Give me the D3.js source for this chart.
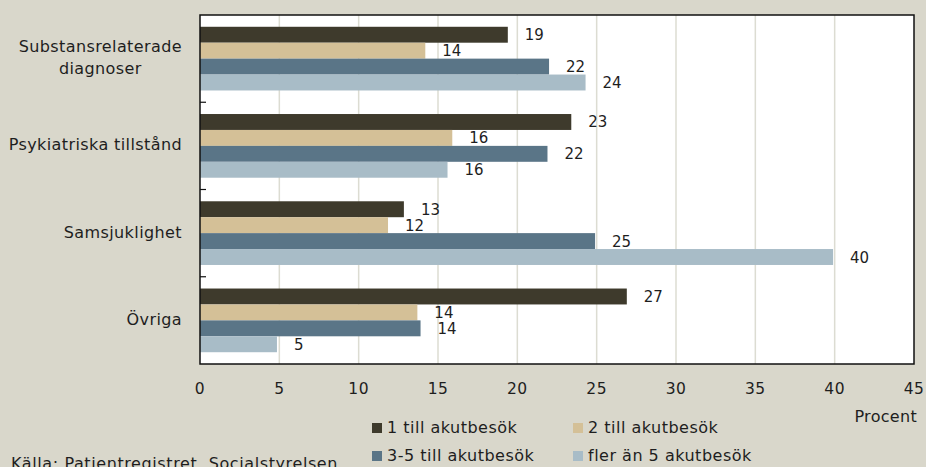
<!DOCTYPE html>
<html>
<head>
<meta charset="utf-8">
<script src="https://cdn.jsdelivr.net/npm/d3@7"></script>
<style>
	html, body { margin: 0; padding: 0; background: #d9d7cb; }
	svg { display: block; }
	text { font-family: "DejaVu Sans", sans-serif; fill: #1e1e1e; }
</style>
</head>
<body>
<div id="chart"></div>
<script>

var categories = [ "Substansrelaterade\ndiagnoser", "Psykiatriska tillstånd", "Samsjuklighet", "Övriga" ];
var seriesNames = [ "1 till akutbesök", "2 till akutbesök", "3-5 till akutbesök", "fler än 5 akutbesök" ];
var seriesColors = [ "#3e3a2c", "#d4c097", "#5a7587", "#a8bcc7" ];

// value per category, one array per series
var oneVisit    = [ 19.4, 23.4, 12.85, 26.9 ];
var twoVisits   = [ 14.2, 15.9, 11.85, 13.7 ];
var threeToFive = [ 22.0, 21.9, 24.9, 13.9 ];
var moreThan5   = [ 24.3, 15.6, 39.9, 4.85 ];

var xTicks = [ 0, 5, 10, 15, 20, 25, 30, 35, 40, 45 ];

var series = [ oneVisit, twoVisits, threeToFive, moreThan5 ];

var width  = 926,
	height = 467;

var plot = { left: 200, right: 914, top: 15, bottom: 364 };

var svg = d3.select("#chart")
	.append("svg")
	.attr("width", width)
	.attr("height", height);

svg.append("rect")
	.attr("width", width)
	.attr("height", height)
	.attr("fill", "#d9d7cb");

var x = d3.scaleLinear()
	.domain([0, 45])
	.range([plot.left, plot.right]);

var y = d3.scaleBand()
	.domain(d3.range(categories.length))
	.range([plot.top, plot.bottom])
	.paddingInner(0.27)
	.paddingOuter(0.135);

var barH = y.bandwidth() / series.length;

// plot background
svg.append("rect")
	.attr("x", plot.left)
	.attr("y", plot.top)
	.attr("width", plot.right - plot.left)
	.attr("height", plot.bottom - plot.top)
	.attr("fill", "#ffffff");

// grid lines
svg.append("g")
	.selectAll("line")
	.data(xTicks.slice(1, -1))
	.enter()
	.append("line")
	.attr("x1", function(d) { return x(d); })
	.attr("x2", function(d) { return x(d); })
	.attr("y1", plot.top)
	.attr("y2", plot.bottom)
	.attr("stroke", "#dcdcd2")
	.attr("stroke-width", 1.5);

// bars
var bars = svg.append("g");
series.forEach(function(values, s) {
	bars.selectAll(".s" + s)
		.data(values)
		.enter()
		.append("rect")
		.attr("class", "s" + s)
		.attr("x", x(0))
		.attr("y", function(d, i) { return y(i) + s * barH; })
		.attr("width", function(d) { return x(d) - x(0); })
		.attr("height", barH)
		.attr("fill", seriesColors[s]);
});

// value labels
var labels = svg.append("g");
series.forEach(function(values, s) {
	labels.selectAll(".l" + s)
		.data(values)
		.enter()
		.append("text")
		.attr("x", function(d) { return x(d) + 17; })
		.attr("y", function(d, i) { return y(i) + s * barH + barH / 2 + 1; })
		.attr("dominant-baseline", "middle")
		.style("font-size", "15px")
		.text(function(d) { return Math.round(d); });
});

// frame
svg.append("rect")
	.attr("x", plot.left)
	.attr("y", plot.top)
	.attr("width", plot.right - plot.left)
	.attr("height", plot.bottom - plot.top)
	.attr("fill", "none")
	.attr("stroke", "#111")
	.attr("stroke-width", 1.5);

// category separator ticks
svg.append("g")
	.selectAll("line")
	.data(d3.range(1, categories.length))
	.enter()
	.append("line")
	.attr("x1", plot.left)
	.attr("x2", plot.left + 6)
	.attr("y1", function(i) { return y(i) - y.step() * y.paddingInner() / 2; })
	.attr("y2", function(i) { return y(i) - y.step() * y.paddingInner() / 2; })
	.attr("stroke", "#111")
	.attr("stroke-width", 1.2);

// x tick labels
svg.append("g")
	.selectAll("text")
	.data(xTicks)
	.enter()
	.append("text")
	.attr("x", function(d) { return x(d); })
	.attr("y", 389)
	.attr("text-anchor", "middle")
	.attr("dominant-baseline", "middle")
	.style("font-size", "15.5px")
	.style("letter-spacing", "0.5px")
	.text(function(d) { return d; });

svg.append("text")
	.attr("x", 917)
	.attr("y", 417)
	.attr("text-anchor", "end")
	.attr("dominant-baseline", "middle")
	.style("font-size", "16px")
	.style("letter-spacing", "0.3px")
	.text("Procent");

// category labels
var catRight = 182;
categories.forEach(function(c, i) {
	var lines = c.split("\n");
	var cy = y(i) + y.bandwidth() / 2;
	var g = svg.append("text")
		.style("font-size", "16px")
		.style("letter-spacing", "0.4px");
	lines.forEach(function(line, k) {
		g.append("tspan")
			.attr("y", cy + (k - (lines.length - 1) / 2) * 22)
			.attr("dominant-baseline", "middle")
			.text(line);
	});
	if (lines.length === 1) {
		g.attr("text-anchor", "end");
		g.selectAll("tspan").attr("x", catRight);
	} else {
		var widest = 0;
		g.selectAll("tspan").each(function() {
			widest = Math.max(widest, this.getComputedTextLength());
		});
		g.attr("text-anchor", "middle");
		g.selectAll("tspan").attr("x", catRight - widest / 2);
	}
});

// legend
var legendPos = [ [372, 428], [573, 428], [372, 456], [573, 456] ];
var legend = svg.append("g")
	.selectAll("g")
	.data(seriesNames)
	.enter()
	.append("g")
	.attr("transform", function(d, i) { return "translate(" + legendPos[i][0] + "," + legendPos[i][1] + ")"; });

legend.append("rect")
	.attr("x", 0)
	.attr("y", -5)
	.attr("width", 10)
	.attr("height", 10)
	.attr("fill", function(d, i) { return seriesColors[i]; });

legend.append("text")
	.attr("x", 15)
	.attr("y", 0)
	.attr("dominant-baseline", "middle")
	.style("font-size", "16px")
	.style("letter-spacing", "0.5px")
	.text(function(d) { return d; });

// source
svg.append("text")
	.attr("x", 11)
	.attr("y", 469)
	.style("font-size", "16px")
	.style("letter-spacing", "0.6px")
	.text("Källa: Patientregistret, Socialstyrelsen");

</script>
</body>
</html>
